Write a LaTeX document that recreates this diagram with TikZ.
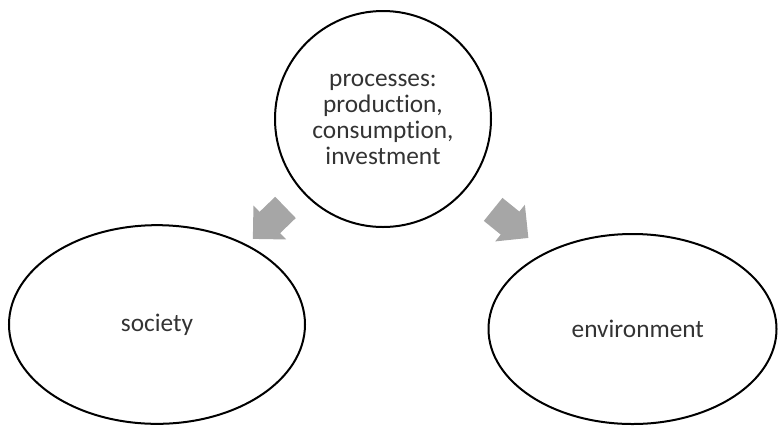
\documentclass[tikz,border=0pt]{standalone}
\usepackage{fontspec}
\setmainfont[Ligatures=NoCommon]{Carlito}
\usepackage{tikz}
\usetikzlibrary{shapes.geometric,shapes.arrows}
\usepackage{xcolor}
\definecolor{arrowgray}{HTML}{A6A6A6}

\begin{document}
\begin{tikzpicture}[x=0.75pt,y=-0.75pt,
		bubble/.style={draw,line width=1.5pt,inner sep=0pt,text=black!80,font=\fontsize{19}{19.5}\selectfont,align=center},
		blockarrow/.style={single arrow,fill=arrowgray,draw=none,inner xsep=0pt,inner ysep=10.9pt,minimum height=34pt,single arrow head extend=6.6pt,single arrow tip angle=90}]
		
		\useasboundingbox (0,0) rectangle (778,426);
		
		\node[bubble,circle,minimum size=162pt] (proc) at (383,119) {processes:\\production,\\consumption,\\investment};
		
		\node[bubble,ellipse,minimum width=222pt,minimum height=149pt] (soc) at (157,324.5) {society};
		
		\node[bubble,ellipse,minimum width=216pt,minimum height=142.5pt] (env) at (632.5,329) {\hspace*{8pt}environment};
		
		\node[blockarrow,rotate=-136] (tosoc) at (274.5,218) {};
		\node[blockarrow,rotate=-39] (toenv) at (505,219) {};
		
	\end{tikzpicture}
\end{document}
